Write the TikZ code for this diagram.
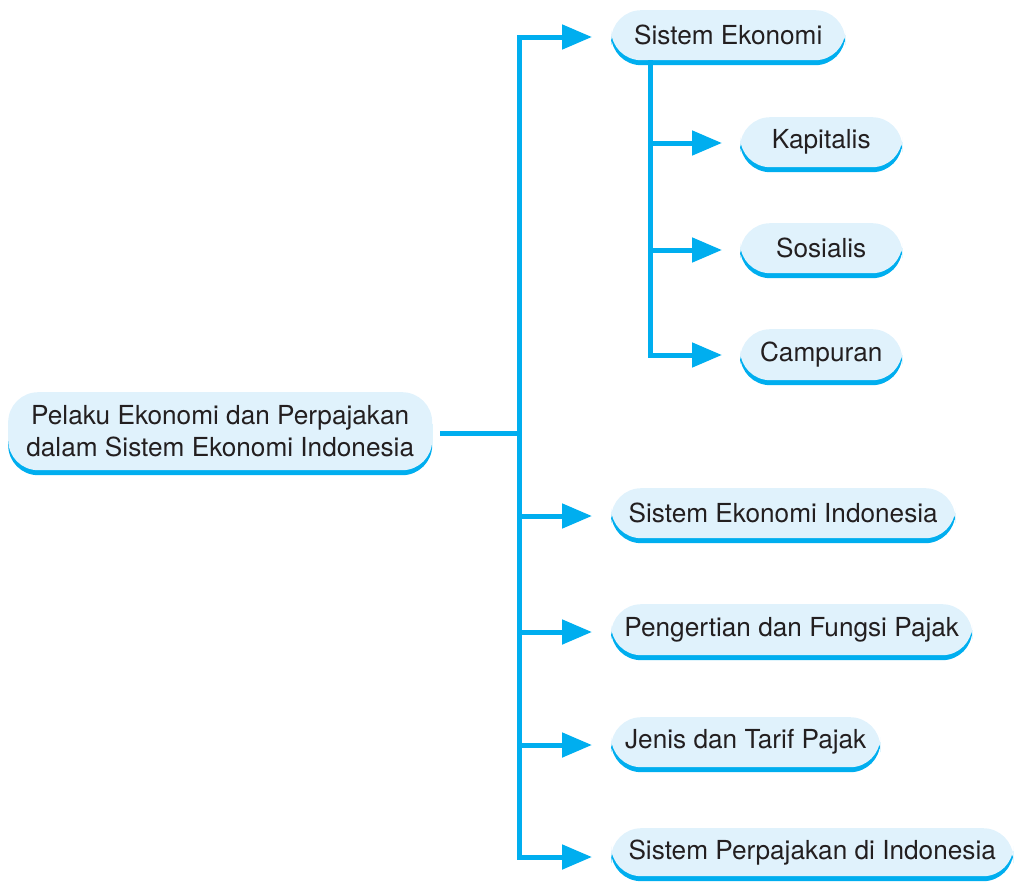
\documentclass[tikz,border=0pt]{standalone}
\usepackage{fontspec}
\setmainfont{TeX Gyre Heros}
\usetikzlibrary{arrows.meta,shadows}
\definecolor{sky}{RGB}{0,174,239}
\definecolor{boxfill}{RGB}{224,242,252}
\definecolor{txt}{RGB}{35,31,32}
\tikzset{
  bx/.style={anchor=north west, inner sep=0pt, rounded corners=30pt, fill=boxfill,
    general shadow={fill=sky, shadow yshift=-5pt}, align=center, text=txt,
    font=\fontsize{26.2}{32}\selectfont},
  conn/.style={draw=sky, line width=5pt},
  arr/.style={conn, -{Triangle[length=30pt,width=24pt]}},
}
\begin{document}
\begin{tikzpicture}[x=1pt,y=-1pt]
\useasboundingbox (0,0) rectangle (1014,881);
\node[bx, minimum width=424pt, minimum height=78pt] (main) at (8,392) {Pelaku Ekonomi dan Perpajakan\\dalam Sistem Ekonomi Indonesia};
\node[bx, minimum width=234pt, minimum height=50pt] (se) at (611,10) {Sistem Ekonomi};
\node[bx, minimum width=162pt, minimum height=50pt] (kap) at (740,117) {Kapitalis};
\node[bx, minimum width=162pt, minimum height=50pt] (sos) at (740,223) {Sosialis};
\node[bx, minimum width=162pt, minimum height=51pt] (cam) at (740,329) {Campuran};
\node[bx, minimum width=344pt, minimum height=50pt] (sei) at (611,488) {Sistem Ekonomi Indonesia};
\node[bx, minimum width=361pt, minimum height=51pt] (pen) at (611,604) {Pengertian dan Fungsi Pajak};
\node[bx, minimum width=269pt, minimum height=50pt] (jen) at (611,717) {Jenis dan Tarif Pajak};
\node[bx, minimum width=402pt, minimum height=48pt] (spi) at (611,828) {Sistem Perpajakan di Indonesia};
% main trunk
\coordinate (ttop) at (519,37);
\coordinate (tbot) at (519,857);
\coordinate (tmid) at (519,433);
\coordinate (mstart) at (440,433);
\coordinate (t4) at (519,516);
\coordinate (t5) at (519,632);
\coordinate (t6) at (519,745);
\draw[conn, line cap=rect] (ttop) -- (tbot);
\draw[conn] (mstart) -- (tmid);
\draw[arr, shorten >=19pt] (ttop) -- (ttop -| se.west);
\draw[arr, shorten >=19pt] (t4) -- (t4 -| sei.west);
\draw[arr, shorten >=19pt] (t5) -- (t5 -| pen.west);
\draw[arr, shorten >=19pt] (t6) -- (t6 -| jen.west);
\draw[arr, shorten >=19pt] (tbot) -- (tbot -| spi.west);
% sub trunk
\coordinate (stop) at (650,62);
\coordinate (s1) at (650,143);
\coordinate (s2) at (650,250);
\coordinate (s3) at (650,355);
\draw[conn, line cap=rect] (stop) -- (s3);
\draw[arr, shorten >=18pt] (s1) -- (s1 -| kap.west);
\draw[arr, shorten >=18pt] (s2) -- (s2 -| sos.west);
\draw[arr, shorten >=18pt] (s3) -- (s3 -| cam.west);
\end{tikzpicture}
\end{document}
